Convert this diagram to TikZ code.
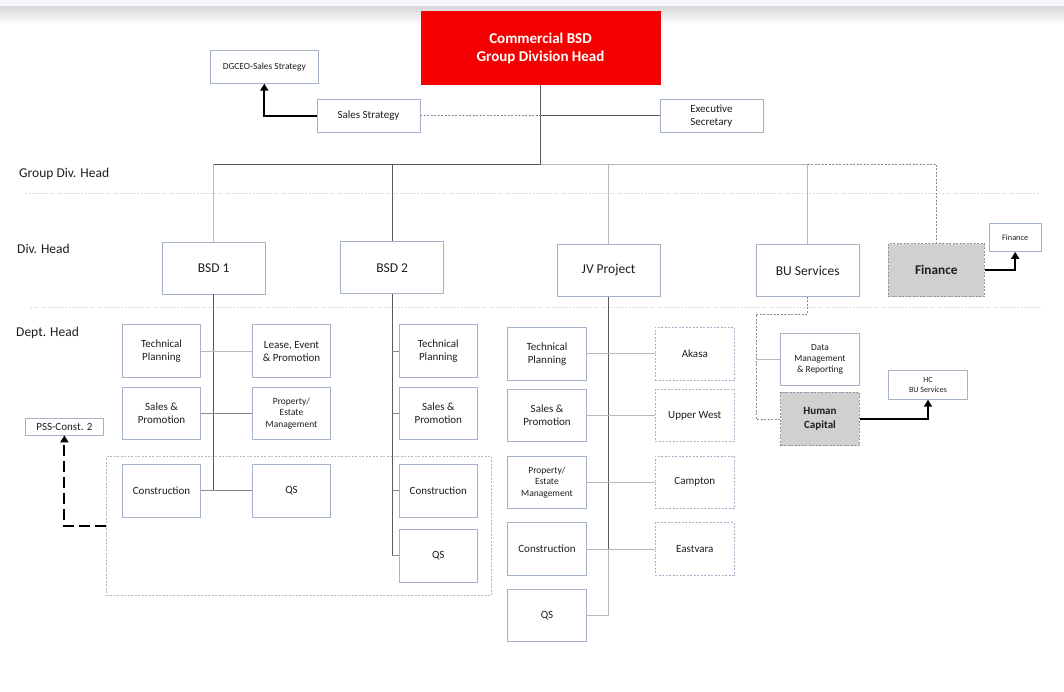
\documentclass[tikz,border=0pt]{standalone}
\usepackage{fontspec}
\setmainfont{Carlito}
\usetikzlibrary{arrows.meta}
\definecolor{bc}{RGB}{166,178,200}
\definecolor{tc}{RGB}{30,30,30}
\definecolor{dk}{RGB}{90,90,90}
\definecolor{md}{RGB}{138,138,138}
\definecolor{lt}{RGB}{184,184,184}
\definecolor{gf}{RGB}{208,208,208}
\definecolor{gd}{RGB}{136,148,168}
\definecolor{redh}{RGB}{245,0,0}
\definecolor{sepc}{RGB}{220,220,220}
\definecolor{stripc}{RGB}{244,246,249}
\definecolor{shadc}{RGB}{215,215,215}
\tikzset{
  sz/.style 2 args={minimum width=#1pt, minimum height=#2pt},
  box/.style={draw=bc, fill=white, line width=0.7pt, align=center, text=tc, inner sep=0pt,
    font=\fontsize{11}{13.3}\selectfont},
  dbox/.style={box, dash pattern=on 2pt off 1.5pt},
  gbox/.style={box, fill=gf, draw=gd, dash pattern=on 2pt off 1.5pt},
  lbl/.style={anchor=west, text=tc, inner sep=0pt, font=\fontsize{13.5}{16}\selectfont},
  dark/.style={draw=dk, line width=0.7pt},
  mid/.style={draw=md, line width=0.7pt},
  light/.style={draw=lt, line width=0.7pt},
  dashc/.style={draw=md, line width=0.7pt, dash pattern=on 2pt off 1.5pt},
  sepline/.style={draw=sepc, line width=0.6pt, dash pattern=on 2pt off 1.5pt},
  arr/.style={draw=black, line width=2pt, -{Triangle[width=8pt,length=7pt]}},
}
\begin{document}
\begin{tikzpicture}[x=1pt,y=-1pt]
\useasboundingbox (0,0) rectangle (1064,691);
\fill[white] (0,0) rectangle (1064,691);
% top strip
\fill[stripc] (0,0) rectangle (1064,6);
\shade[top color=shadc, bottom color=white] (0,6) rectangle (1064,24);
% separators
\draw[sepline] (25,193.5) -- (1040,193.5);
\draw[sepline] (30,307) -- (1043,307);
% row labels
\node[lbl] (lg) at (19,174) {Group Div. Head};
\node[lbl] (ld) at (17,248.5) {Div. Head};
\node[lbl] (lp) at (16,332.7) {Dept. Head};
% group rectangle
\node[draw=lt, line width=0.7pt, dash pattern=on 2pt off 1.5pt, sz={385}{138.6}, inner sep=0pt] (grp) at (299.2,526) {};
% top nodes
\node[box, draw=redh, fill=redh, text=white, sz={239}{73}, font=\bfseries\fontsize{15}{17.6}\selectfont] (head) at (540.5,48.3) {Commercial BSD\\Group Division Head};
\node[box, sz={108}{33}, font=\fontsize{9.4}{11}\selectfont] (dgceo) at (264.3,66.8) {DGCEO-Sales Strategy};
\node[box, sz={103}{33}] (ss) at (368.5,115.7) {Sales Strategy};
\node[box, sz={103}{33}, font=\fontsize{11}{13.2}\selectfont] (exec) at (711.4,115.7) {Executive\\Secretary};
% level 2
\node[box, sz={103}{52}, font=\fontsize{13.5}{16}\selectfont] (bsd1) at (213.7,268) {BSD 1};
\node[box, sz={103}{52}, font=\fontsize{13.5}{16}\selectfont] (bsd2) at (392.2,267.8) {BSD 2};
\node[box, sz={103}{52}, font=\fontsize{13.5}{16}\selectfont] (jv) at (608.6,270.5) {JV Project};
\node[box, sz={103}{52}, font=\fontsize{13.5}{16}\selectfont] (bu) at (807.7,270.5) {BU Services};
\node[gbox, sz={96}{53}, font=\bfseries\fontsize{13.3}{16}\selectfont] (fin) at (936.3,270) {Finance};
\node[box, sz={52}{28}, font=\fontsize{8.3}{10}\selectfont] (fins) at (1015.2,237.5) {Finance};
% BSD 1
\node[box, sz={78.5}{53}] (b1tp) at (161.5,351.2) {Technical\\Planning};
\node[box, sz={78.5}{53}] (b1le) at (291.5,351.2) {Lease, Event\\\& Promotion};
\node[box, sz={78.5}{52.5}] (b1sp) at (161.5,413.5) {Sales \&\\Promotion};
\node[box, sz={78.5}{52.5}, font=\fontsize{9.5}{11.5}\selectfont] (b1pe) at (291.5,413.5) {Property/\\Estate\\Management};
\node[box, sz={78.5}{53}] (b1c) at (161.5,490.5) {Construction};
\node[box, sz={78.5}{53}] (b1qs) at (291.5,490.5) {QS};
% BSD 2
\node[box, sz={78.5}{53}] (b2tp) at (438.3,351.2) {Technical\\Planning};
\node[box, sz={78.5}{52.5}] (b2sp) at (438.3,413.5) {Sales \&\\Promotion};
\node[box, sz={78.5}{53}] (b2c) at (438.3,490.5) {Construction};
\node[box, sz={78.5}{52.7}] (b2qs) at (438.3,555.7) {QS};
% JV
\node[box, sz={79.4}{53}] (jtp) at (547,353.8) {Technical\\Planning};
\node[box, sz={79.4}{52.4}] (jsp) at (547,415.5) {Sales \&\\Promotion};
\node[box, sz={79.4}{52.7}, font=\fontsize{9.5}{11.5}\selectfont] (jpe) at (547,482.3) {Property/\\Estate\\Management};
\node[box, sz={79.4}{52.6}] (jc) at (547,549) {Construction};
\node[box, sz={79.4}{52.4}] (jqs) at (547,615.5) {QS};
\node[dbox, sz={79}{53}] (ak) at (694.8,353.8) {Akasa};
\node[dbox, sz={79}{52.4}] (uw) at (694.8,415.5) {Upper West};
\node[dbox, sz={79}{52.7}] (cp) at (694.8,482.3) {Campton};
\node[dbox, sz={79}{52.6}] (ev) at (694.8,549) {Eastvara};
% BU services
\node[box, sz={78.6}{52}, font=\fontsize{9.4}{11.3}\selectfont] (dm) at (820,359.3) {Data\\Management\\\& Reporting};
\node[gbox, sz={78.6}{53.4}, font=\bfseries\fontsize{11}{13.7}\selectfont] (hc) at (820,419) {Human\\Capital};
\node[box, sz={79.4}{29.3}, font=\fontsize{8}{10}\selectfont] (hcbu) at (928,384.7) {HC\\BU Services};
% PSS
\node[box, sz={77.6}{16.7}] (pss) at (64.4,426.7) {PSS-Const. 2};
% junction coordinates
\coordinate (j0) at (540.5,164);
\coordinate (bu2) at (756,314);
% connectors: top
\draw[dark] (head.south) -- (j0);
\draw[dashc] (ss.east) -- (ss.east -| head.south);
\draw[dark] (ss.east -| head.south) -- (exec.west);
\draw[arr] (ss.west) -| (dgceo.south);
% trunk
\draw[dark] (bsd1.north |- j0) -- (j0);
\draw[light] (j0) -- (j0 -| bu.north);
\draw[dashc] (j0 -| bu.north) -- (j0 -| fin.north) -- (fin.north);
\draw[light] (bsd1.north |- j0) -- (bsd1.north);
\draw[dark] (bsd2.north |- j0) -- (bsd2.north);
\draw[light] (jv.north |- j0) -- (jv.north);
\draw[light] (bu.north |- j0) -- (bu.north);
\draw[arr] (fin.east) -| (fins.south);
% BSD 1
\draw[dark] (bsd1.south) -- (bsd1.south |- b1c.east);
\draw[light] (b1tp.east) -- (b1le.west);
\draw[mid] (b1sp.east) -- (b1pe.west);
\draw[mid] (b1c.east) -- (b1qs.west);
% BSD 2
\draw[dark] (bsd2.south) -- (bsd2.south |- b2qs.west);
\draw[mid] (bsd2.south |- b2tp.west) -- (b2tp.west);
\draw[mid] (bsd2.south |- b2sp.west) -- (b2sp.west);
\draw[mid] (bsd2.south |- b2c.west) -- (b2c.west);
\draw[mid] (bsd2.south |- b2qs.west) -- (b2qs.west);
% JV
\draw[dark] (jv.south) -- (jv.south |- jc.east);
\draw[light] (jv.south |- jc.east) -- (jv.south |- jqs.east) -- (jqs.east);
\draw[light] (jtp.east) -- (ak.west);
\draw[light] (jsp.east) -- (uw.west);
\draw[light] (jpe.east) -- (cp.west);
\draw[light] (jc.east) -- (ev.west);
% BU
\draw[dashc] (bu.south) -- (bu.south |- bu2) -- (bu2) |- (hc.west);
\draw[light] (bu2 |- dm.west) -- (dm.west);
\draw[arr] (hc.east) -| (hcbu.south);
% PSS
\draw[arr, dash pattern=on 11pt off 5pt] (grp.west) -| (pss.south);
\end{tikzpicture}
\end{document}
